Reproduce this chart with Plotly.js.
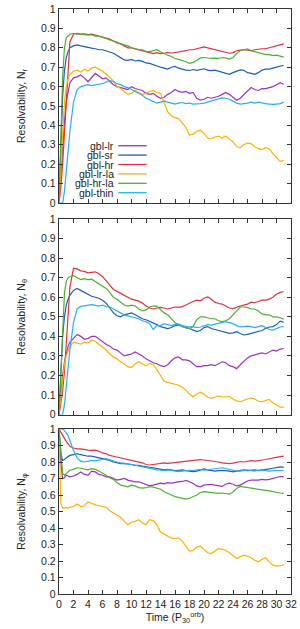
<!DOCTYPE html>
<html>
<head>
<meta charset="utf-8">
<script src="https://cdn.plot.ly/plotly-3.0.1.min.js"></script>
<style>html,body{margin:0;padding:0;background:#fff;}#chart{width:300px;height:629px;}</style>
</head>
<body>
<div id="chart"></div>
<script>
// Time axis (P_30^orb)
const T = [0,0.25,0.5,0.75,1,1.25,1.5,
  2,2.5,3,3.5,4,4.5,5,5.5,6,6.5,
  7,7.5,8,8.5,9,9.5,10,10.5,11,11.5,
  12,12.5,13,13.5,14,14.5,15,15.5,16,16.5,
  17,17.5,18,18.5,19,19.5,20,20.5,21,21.5,
  22,22.5,23,23.5,24,24.5,25,25.5,26,26.5,
  27,27.5,28,28.5,29,29.5,30,30.5,31];

const seriesNames = ['gbl-lr','gbl-sr','gbl-hr','gbl-lr-la','gbl-hr-la','gbl-thin'];
const seriesColors = ['#9b2fc4','#1a5fb0','#e3303c','#ffb000','#4cb030','#28aef2'];
const yTitles = ['Resolvability, N<sub>r</sub>','Resolvability, N<sub>θ</sub>','Resolvability, N<sub>φ</sub>'];
const xTitle = 'Time (P<sub>30</sub><sup>orb</sup>)';
const xTickVals = [0,2,4,6,8,10,12,14,16,18,20,22,24,26,28,30,32];
const yTickVals = [0,0.1,0.2,0.3,0.4,0.5,0.6,0.7,0.8,0.9,1];

// Panel 1: N_r
const nr_lr = [0,0.15,0.3,0.42,0.52,0.58,0.62,
  0.645,0.65,0.66,0.645,0.625,0.645,0.668,0.655,0.64,0.645,
  0.63,0.61,0.60,0.595,0.59,0.585,0.60,0.59,0.585,0.58,
  0.565,0.56,0.565,0.55,0.54,0.545,0.56,0.57,0.585,0.575,
  0.57,0.575,0.565,0.57,0.54,0.53,0.535,0.545,0.54,0.545,
  0.55,0.56,0.57,0.56,0.545,0.53,0.54,0.56,0.575,0.595,
  0.585,0.58,0.59,0.59,0.595,0.60,0.61,0.62,0.612];
const nr_sr = [0,0.3,0.55,0.68,0.75,0.78,0.80,
  0.81,0.815,0.81,0.805,0.80,0.798,0.795,0.79,0.79,0.785,
  0.78,0.772,0.76,0.75,0.738,0.735,0.74,0.732,0.735,0.73,
  0.722,0.72,0.712,0.705,0.70,0.695,0.69,0.70,0.704,0.695,
  0.688,0.685,0.683,0.688,0.684,0.688,0.692,0.685,0.682,0.685,
  0.68,0.675,0.668,0.663,0.672,0.68,0.686,0.684,0.672,0.668,
  0.663,0.672,0.685,0.69,0.69,0.695,0.70,0.705,0.71];
const nr_hr = [0,0.08,0.2,0.35,0.5,0.7,0.83,
  0.87,0.875,0.87,0.872,0.868,0.87,0.865,0.86,0.855,0.85,
  0.845,0.835,0.825,0.82,0.81,0.80,0.80,0.795,0.79,0.785,
  0.78,0.772,0.77,0.775,0.77,0.772,0.776,0.772,0.775,0.778,
  0.78,0.785,0.79,0.79,0.795,0.80,0.805,0.80,0.795,0.79,
  0.787,0.782,0.778,0.772,0.775,0.785,0.788,0.79,0.788,0.785,
  0.79,0.793,0.795,0.795,0.80,0.805,0.81,0.818,0.82];
const nr_lrla = [0,0.2,0.4,0.52,0.6,0.64,0.66,
  0.68,0.685,0.675,0.69,0.68,0.695,0.70,0.69,0.68,0.665,
  0.645,0.63,0.60,0.59,0.575,0.56,0.565,0.58,0.57,0.56,
  0.565,0.575,0.58,0.57,0.565,0.52,0.47,0.45,0.44,0.435,
  0.415,0.39,0.35,0.355,0.37,0.375,0.36,0.335,0.33,0.34,
  0.345,0.335,0.345,0.33,0.315,0.29,0.285,0.30,0.31,0.305,
  0.29,0.28,0.275,0.285,0.28,0.255,0.235,0.215,0.22];
const nr_hrla = [0,0.35,0.65,0.8,0.85,0.86,0.87,
  0.875,0.87,0.87,0.868,0.865,0.868,0.86,0.86,0.855,0.848,
  0.84,0.835,0.83,0.82,0.815,0.81,0.80,0.795,0.79,0.79,
  0.782,0.78,0.785,0.79,0.78,0.77,0.762,0.755,0.745,0.74,
  0.735,0.728,0.72,0.725,0.735,0.748,0.75,0.748,0.745,0.747,
  0.745,0.75,0.748,0.742,0.75,0.77,0.785,0.79,0.795,0.785,
  0.78,0.775,0.77,0.765,0.765,0.76,0.762,0.757,0.752];
const nr_thin = [0,0,0,0.06,0.16,0.27,0.37,
  0.52,0.585,0.60,0.605,0.61,0.605,0.61,0.612,0.615,0.625,
  0.632,0.625,0.615,0.61,0.60,0.595,0.585,0.575,0.565,0.555,
  0.54,0.532,0.52,0.515,0.52,0.525,0.52,0.515,0.51,0.515,
  0.518,0.512,0.515,0.51,0.51,0.512,0.515,0.52,0.525,0.53,
  0.535,0.542,0.54,0.535,0.525,0.515,0.51,0.512,0.515,0.52,
  0.515,0.52,0.515,0.512,0.51,0.508,0.51,0.512,0.52];

// Panel 2: N_theta
const nt_lr = [0,0.12,0.2,0.27,0.32,0.35,0.37,
  0.39,0.41,0.40,0.385,0.39,0.40,0.40,0.385,0.375,0.36,
  0.35,0.335,0.33,0.315,0.30,0.305,0.31,0.32,0.31,0.30,
  0.285,0.275,0.265,0.26,0.25,0.245,0.255,0.275,0.29,0.295,
  0.28,0.28,0.275,0.26,0.245,0.245,0.25,0.25,0.255,0.25,
  0.26,0.27,0.265,0.25,0.245,0.235,0.255,0.275,0.29,0.30,
  0.305,0.31,0.315,0.31,0.32,0.33,0.325,0.335,0.338];
const nt_sr = [0,0.2,0.4,0.5,0.56,0.59,0.61,
  0.635,0.645,0.635,0.625,0.615,0.605,0.60,0.595,0.585,0.57,
  0.545,0.52,0.505,0.50,0.51,0.515,0.52,0.51,0.50,0.49,
  0.485,0.478,0.47,0.46,0.45,0.445,0.44,0.445,0.455,0.458,
  0.45,0.445,0.44,0.432,0.424,0.43,0.445,0.45,0.44,0.435,
  0.43,0.425,0.42,0.415,0.418,0.424,0.415,0.407,0.41,0.415,
  0.42,0.424,0.43,0.44,0.448,0.45,0.46,0.478,0.472];
const nt_hr = [0,0.05,0.12,0.22,0.35,0.5,0.65,
  0.748,0.745,0.735,0.732,0.725,0.728,0.73,0.72,0.705,0.685,
  0.66,0.64,0.63,0.62,0.61,0.60,0.59,0.585,0.58,0.57,
  0.555,0.545,0.54,0.545,0.548,0.545,0.54,0.545,0.55,0.548,
  0.552,0.56,0.57,0.578,0.585,0.582,0.595,0.602,0.59,0.575,
  0.568,0.565,0.555,0.545,0.542,0.55,0.555,0.56,0.565,0.575,
  0.572,0.578,0.585,0.585,0.59,0.60,0.615,0.625,0.628];
const nt_lrla = [0,0.1,0.2,0.26,0.3,0.33,0.35,
  0.37,0.365,0.36,0.37,0.365,0.38,0.375,0.36,0.345,0.33,
  0.31,0.295,0.285,0.27,0.26,0.245,0.24,0.26,0.27,0.26,
  0.25,0.262,0.255,0.23,0.20,0.17,0.165,0.16,0.155,0.15,
  0.14,0.125,0.105,0.09,0.105,0.115,0.105,0.09,0.083,0.09,
  0.095,0.09,0.09,0.092,0.08,0.07,0.066,0.075,0.08,0.085,
  0.08,0.068,0.065,0.072,0.078,0.06,0.048,0.038,0.038];
const nt_hrla = [0,0.2,0.45,0.62,0.68,0.70,0.705,
  0.71,0.70,0.69,0.695,0.69,0.692,0.68,0.67,0.66,0.645,
  0.625,0.60,0.59,0.575,0.56,0.555,0.56,0.555,0.54,0.53,
  0.535,0.55,0.555,0.555,0.54,0.52,0.51,0.49,0.47,0.46,
  0.45,0.445,0.44,0.45,0.485,0.50,0.50,0.495,0.49,0.49,
  0.48,0.475,0.48,0.49,0.51,0.535,0.55,0.55,0.548,0.54,
  0.54,0.53,0.515,0.51,0.51,0.50,0.50,0.495,0.488];
const nt_thin = [0,0,0,0.05,0.14,0.24,0.33,
  0.47,0.54,0.553,0.555,0.56,0.562,0.558,0.555,0.56,0.552,
  0.55,0.54,0.53,0.52,0.51,0.505,0.50,0.495,0.49,0.48,
  0.475,0.465,0.435,0.455,0.455,0.465,0.46,0.455,0.46,0.462,
  0.455,0.45,0.448,0.45,0.445,0.448,0.455,0.46,0.458,0.462,
  0.465,0.472,0.475,0.47,0.465,0.455,0.448,0.45,0.452,0.45,
  0.445,0.45,0.455,0.445,0.435,0.432,0.44,0.448,0.45];

// Panel 3: N_phi
const np_lr = [1,0.8,0.7,0.705,0.72,0.715,0.71,
  0.715,0.725,0.74,0.725,0.72,0.745,0.74,0.725,0.72,0.71,
  0.71,0.70,0.69,0.695,0.70,0.69,0.685,0.68,0.68,0.672,
  0.665,0.655,0.66,0.665,0.672,0.668,0.675,0.672,0.678,0.68,
  0.682,0.688,0.68,0.67,0.655,0.65,0.66,0.662,0.665,0.66,
  0.655,0.652,0.665,0.672,0.665,0.655,0.66,0.672,0.685,0.69,
  0.688,0.69,0.695,0.692,0.695,0.70,0.705,0.712,0.71];
const np_sr = [1,0.85,0.81,0.815,0.825,0.835,0.84,
  0.845,0.85,0.845,0.84,0.835,0.835,0.83,0.825,0.82,0.815,
  0.81,0.80,0.795,0.79,0.792,0.79,0.785,0.78,0.78,0.775,
  0.77,0.768,0.765,0.76,0.755,0.752,0.755,0.75,0.748,0.75,
  0.752,0.748,0.745,0.742,0.745,0.75,0.758,0.752,0.748,0.745,
  0.748,0.75,0.748,0.745,0.74,0.745,0.75,0.752,0.748,0.75,
  0.752,0.748,0.75,0.755,0.758,0.762,0.768,0.77,0.768];
const np_hr = [1,0.98,0.96,0.945,0.925,0.91,0.895,
  0.885,0.88,0.88,0.875,0.872,0.87,0.872,0.865,0.855,0.85,
  0.84,0.835,0.83,0.825,0.82,0.815,0.81,0.805,0.80,0.795,
  0.785,0.782,0.785,0.788,0.79,0.795,0.792,0.795,0.798,0.80,
  0.802,0.805,0.808,0.81,0.812,0.815,0.812,0.81,0.808,0.805,
  0.80,0.795,0.792,0.79,0.793,0.80,0.803,0.80,0.805,0.808,
  0.805,0.81,0.812,0.815,0.82,0.825,0.828,0.833,0.835];
const np_lrla = [1,0.55,0.52,0.52,0.525,0.52,0.525,
  0.53,0.545,0.53,0.535,0.558,0.55,0.54,0.535,0.53,0.525,
  0.505,0.49,0.48,0.465,0.44,0.42,0.435,0.44,0.45,0.43,
  0.42,0.45,0.445,0.42,0.375,0.36,0.35,0.34,0.335,0.34,
  0.32,0.29,0.26,0.265,0.285,0.29,0.27,0.25,0.245,0.26,
  0.275,0.27,0.265,0.25,0.23,0.215,0.225,0.235,0.23,0.22,
  0.205,0.195,0.21,0.22,0.195,0.175,0.17,0.17,0.178];
const np_hrla = [1,0.85,0.73,0.72,0.73,0.745,0.75,
  0.755,0.765,0.762,0.755,0.752,0.76,0.755,0.745,0.735,0.72,
  0.705,0.695,0.675,0.66,0.655,0.65,0.66,0.655,0.645,0.642,
  0.645,0.65,0.648,0.64,0.635,0.62,0.612,0.60,0.59,0.585,
  0.578,0.575,0.58,0.59,0.60,0.615,0.62,0.618,0.615,0.612,
  0.61,0.612,0.61,0.605,0.618,0.64,0.652,0.648,0.645,0.64,
  0.638,0.635,0.632,0.628,0.625,0.62,0.615,0.612,0.61];
const np_thin = [1,1,1,0.99,0.975,0.96,0.93,
  0.87,0.825,0.805,0.80,0.805,0.81,0.808,0.81,0.815,0.82,
  0.812,0.805,0.80,0.795,0.79,0.787,0.785,0.78,0.775,0.77,
  0.765,0.758,0.755,0.752,0.75,0.748,0.752,0.748,0.745,0.742,
  0.745,0.748,0.75,0.748,0.752,0.755,0.75,0.752,0.755,0.76,
  0.762,0.765,0.76,0.758,0.752,0.745,0.745,0.75,0.752,0.748,
  0.745,0.75,0.752,0.748,0.745,0.748,0.75,0.752,0.75];

const panels = [
  [nr_lr, nr_sr, nr_hr, nr_lrla, nr_hrla, nr_thin],
  [nt_lr, nt_sr, nt_hr, nt_lrla, nt_hrla, nt_thin],
  [np_lr, np_sr, np_hr, np_lrla, np_hrla, np_thin]
];

const FONT = 'Liberation Sans, Arial, Helvetica, sans-serif';
const AX = '#333333';
const M = {l:59, r:9, t:9, b:35};
const PW = 300 - M.l - M.r, PH = 629 - M.t - M.b;
const pxX = px => (px - M.l) / PW;
const pxY = py => (629 - M.b - py) / PH;

const traces = [];
panels.forEach((p, i) => {
  const s = i === 0 ? '' : String(i + 1);
  p.forEach((vals, k) => {
    traces.push({
      x: T, y: vals, type: 'scatter', mode: 'lines',
      name: seriesNames[k], showlegend: false,
      line: {color: seriesColors[k], width: 1.2},
      xaxis: 'x' + s, yaxis: 'y' + s, hoverinfo: 'skip'
    });
  });
});

const domains = [[pxY(203), 1], [pxY(414.6), pxY(219)], [0, pxY(429)]];

function xax(anchor, labels) {
  const a = {
    anchor: anchor, range: [0, 32], tickvals: xTickVals,
    ticks: 'inside', ticklen: 4, tickwidth: 1, tickcolor: AX,
    mirror: 'ticks', showline: true, linecolor: AX, linewidth: 1.2,
    showgrid: false, zeroline: false, showticklabels: labels,
    tickfont: {family: FONT, size: 10.5, color: '#222'}
  };
  if (labels) a.title = {text: xTitle, font: {family: FONT, size: 10.5, color: '#222'}, standoff: 4};
  return a;
}
function yax(anchor, dom, title) {
  return {
    anchor: anchor, domain: dom, range: [0, 1], tickvals: yTickVals,
    ticktext: yTickVals.map(v => String(v)),
    ticks: 'inside', ticklen: 4, tickwidth: 1, tickcolor: AX,
    mirror: 'ticks', showline: true, linecolor: AX, linewidth: 1.2,
    showgrid: false, zeroline: false,
    tickfont: {family: FONT, size: 10.5, color: '#222'},
    title: {text: title, font: {family: FONT, size: 10.5, color: '#222'}, standoff: 13}
  };
}

// Legend (gnuplot style: text right-aligned, sample line to the right)
const annotations = [], shapes = [];
const legTop = 145.7, legStep = 9.4, legTextRight = 115, legLine0 = 118.3, legLine1 = 146.7;
seriesNames.forEach((n, k) => {
  const yy = pxY(legTop + k * legStep);
  annotations.push({
    xref: 'paper', yref: 'paper', x: pxX(legTextRight), y: yy,
    xanchor: 'right', yanchor: 'middle', text: n, showarrow: false,
    borderpad: 0, font: {family: FONT, size: 10.5, color: '#222'}
  });
  shapes.push({
    type: 'line', xref: 'paper', yref: 'paper',
    x0: pxX(legLine0), x1: pxX(legLine1), y0: yy, y1: yy,
    line: {color: seriesColors[k], width: 1.3}
  });
});

const layout = {
  width: 300, height: 629, margin: M,
  paper_bgcolor: '#fff', plot_bgcolor: '#fff',
  font: {family: FONT, size: 10.5, color: '#222'},
  showlegend: false,
  xaxis: xax('y', false), yaxis: yax('x', domains[0], yTitles[0]),
  xaxis2: xax('y2', false), yaxis2: yax('x2', domains[1], yTitles[1]),
  xaxis3: xax('y3', true), yaxis3: yax('x3', domains[2], yTitles[2]),
  annotations: annotations, shapes: shapes
};

Plotly.newPlot('chart', traces, layout, {staticPlot: true, displayModeBar: false});
</script>
</body>
</html>
